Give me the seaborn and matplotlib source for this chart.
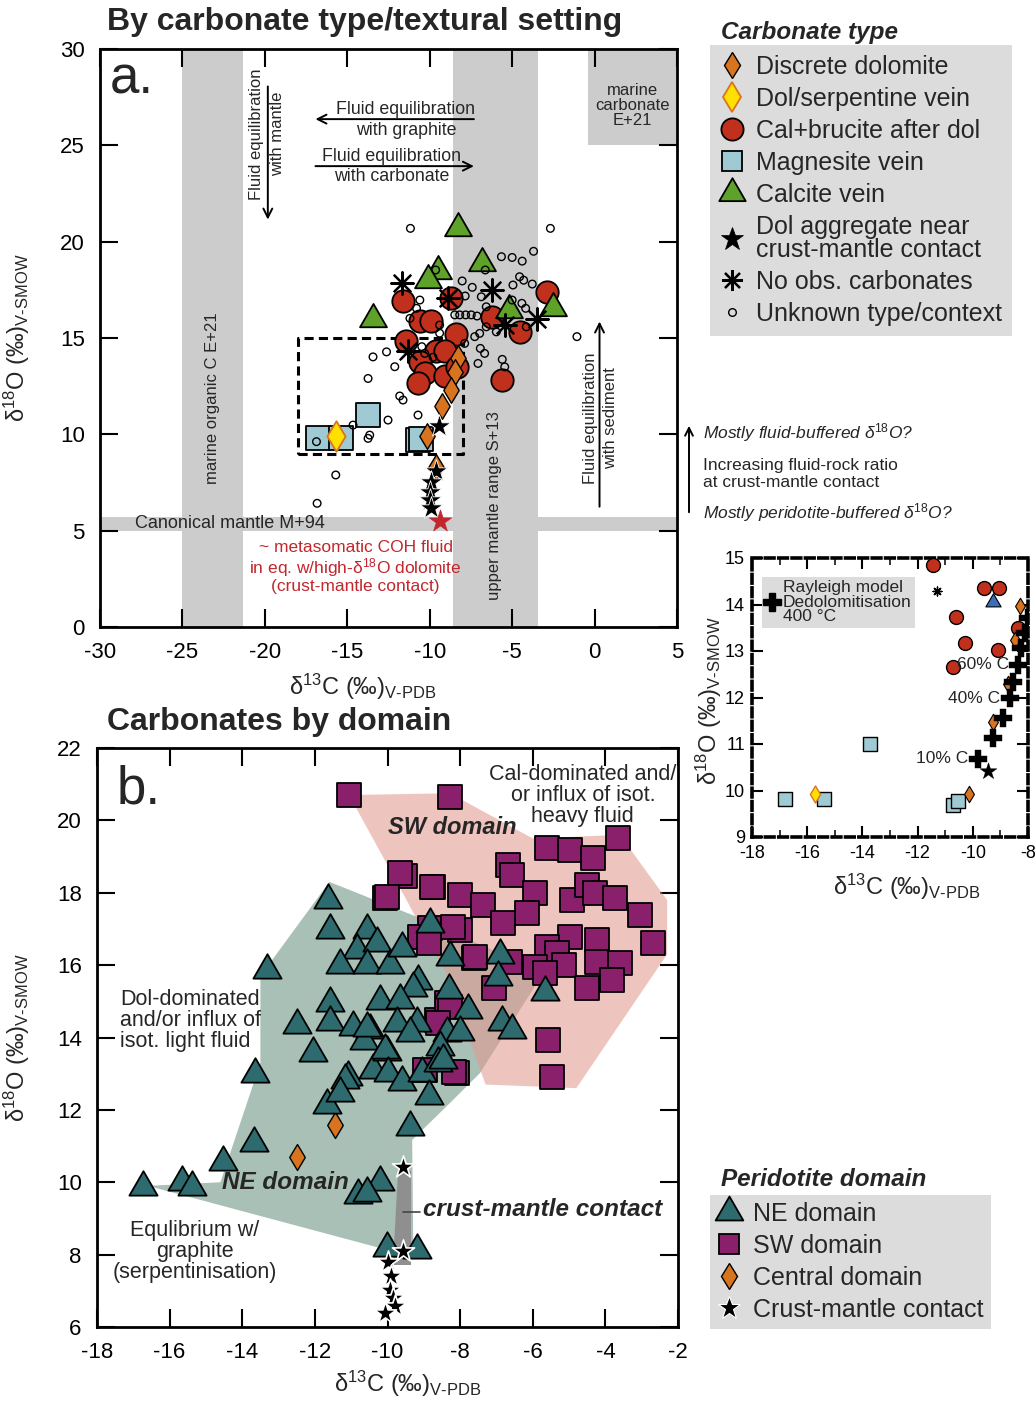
import numpy as np
import matplotlib
matplotlib.use("Agg")
import matplotlib.pyplot as plt
import seaborn as sns
from matplotlib.lines import Line2D
from matplotlib.patches import Polygon, FancyArrowPatch
from matplotlib.path import Path

# ---------------- DATA : panel a (by carbonate type) ----------------
dol_x = [-8.3, -8.48, -8.73, -9.27, -10.15, -9.6]
dol_y = [13.96, 13.24, 12.30, 11.47, 9.93, 8.3]
serp_x = [-15.7]
serp_y = [9.93]
cal_x = [-11.6, -8.7, -10.6, -9.9, -2.9, -6.2, -4.5, -8.4, -5.6,
         -11.45, -9.6, -9.05, -10.6, -10.3, -10.73, -9.09, -8.36]
cal_y = [16.9, 17.1, 15.9, 15.9, 17.4, 16.1, 15.3, 15.2, 12.8,
         14.86, 14.35, 14.35, 13.74, 13.17, 12.66, 13.02, 13.49]
mgs_x = [-16.79, -15.39, -13.72, -10.73, -10.55]
mgs_y = [9.82, 9.82, 11.0, 9.68, 9.78]
calv_x = [-8.3, -6.8, -9.5, -10.1, -13.45, -5.2, -2.55]
calv_y = [20.7, 18.9, 18.5, 18.0, 16.0, 16.45, 16.55]
agg_x = [-9.45, -9.6, -9.9, -10.0, -10.0, -9.9]
agg_y = [10.43, 8.1, 7.5, 7.0, 6.6, 6.2]
noobs_x = [-11.7, -8.9, -6.24, -3.5, -5.45, -11.3]
noobs_y = [17.85, 17.1, 17.5, 16.0, 15.7, 14.3]
unk_x = [-11.17, -2.68, -5.65, -5.0, -4.39, -3.7, -6.63, -9.64, -8.03, -7.42,
         -4.95, -4.55, -4.3, -3.78, -6.87, -5.0, -4.41, -4.18, -7.85, -10.6,
         -10.8, -8.48, -8.18, -7.82, -7.48, -7.13, -6.57, -6.57, -6.97, -7.27,
         -6.93, -6.67, -7.07, -5.6, -5.45, -5.96, -4.14, -7.88, -13.44, -12.62,
         -12.12, -13.74, -11.2, -9.4, -9.4, -1.07, -10.48, -10.3, -9.8, -11.82,
         -11.62, -12.53, -13.74, -13.64, -14.65, -16.87, -10.71, -15.7, -16.83]
unk_y = [20.69, 20.69, 19.22, 19.18, 18.99, 19.5, 18.53, 18.53, 17.96, 17.63,
         17.75, 18.18, 18.0, 17.8, 17.14, 16.97, 16.8, 16.54, 17.18, 16.97,
         16.54, 16.2, 16.2, 16.2, 16.2, 16.14, 16.62, 15.58, 15.24, 15.07,
         14.46, 14.2, 13.68, 13.89, 13.5, 15.32, 15.58, 14.72, 14.02, 14.28,
         13.51, 12.9, 16.02, 15.67, 15.25, 15.07, 14.55, 14.2, 14.0, 11.99,
         11.78, 10.74, 9.79, 9.96, 10.48, 9.62, 11.0, 7.89, 6.42]
coh_x = [-9.4]
coh_y = [5.5]
# reference fields (panel a)
org_c_band = [-25.0, -21.3]
mantle_c_band = [-8.6, -3.45]
marine_carb_box = [-0.4, 5.0, 25.0, 30.0]
canon_mantle_band = [5.0, 5.7]
inset_box = [-18.0, -8.0, 9.0, 15.0]

# ---------------- DATA : inset ----------------
ray_x = [-8.0, -8.12, -8.24, -8.36, -8.55, -8.67, -8.91, -9.27, -9.82]
ray_y = [13.7, 13.38, 13.06, 12.70, 12.34, 11.98, 11.55, 11.12, 10.68]
ray_lab_idx = [3, 5, 8]
ray_lab = ["60% C", "40% C", "10% C"]
blue_tri_x = [-9.27]
blue_tri_y = [14.06]

# ---------------- DATA : panel b (by domain) ----------------
ne_x = [-11.63, -11.58, -10.57, -10.85, -10.3, -11.31, -10.57, -9.93, -13.32, -11.58,
        -10.2, -12.5, -11.58, -10.94, -10.48, -12.04, -10.66, -13.65, -11.08, -10.39,
        -10.02, -9.61, -8.83, -8.28, -9.15, -9.29, -8.32, -9.65, -7.77, -10.57,
        -9.75, -9.19, -9.38, -8.37, -8.0, -10.07, -8.55, -11.17, -9.98, -9.61,
        -9.06, -8.6, -8.87, -11.67, -16.72, -15.67, -15.39, -14.52, -13.69, -11.31,
        -9.38, -10.2, -10.8, -10.57, -10.02, -9.19, -6.9, -6.95, -5.66, -6.85,
        -6.58, -8.47]
ne_y = [17.80, 16.97, 16.97, 16.42, 16.6, 16.0, 16.0, 16.0, 15.87, 14.95,
        15.0, 14.35, 14.44, 14.30, 14.21, 13.57, 13.89, 13.0, 12.92, 13.10,
        13.61, 16.46, 17.15, 16.23, 15.55, 15.36, 15.31, 15.04, 14.76, 14.26,
        14.40, 14.40, 14.12, 14.12, 14.16, 13.66, 13.75, 12.83, 13.01, 12.78,
        13.01, 13.29, 12.37, 12.14, 9.88, 10.02, 9.88, 10.57, 11.08, 12.46,
        11.54, 10.02, 9.65, 9.69, 8.17, 8.13, 16.28, 15.67, 15.27, 14.44,
        14.21, 13.38]
sw_x = [-11.06, -8.28, -5.61, -4.97, -4.33, -3.64, -6.67, -6.58, -8.74, -8.0,
        -7.36, -5.93, -6.16, -6.81, -4.93, -4.51, -4.28, -3.73, -3.04, -2.68,
        -8.0, -8.83, -4.97, -4.24, -5.61, -5.34, -7.63, -6.62, -5.93, -5.15,
        -4.24, -3.59, -5.66, -4.51, -3.82, -7.08, -9.1, -8.64, -10.07, -9.52,
        -8.19, -7.59, -5.57, -5.48, -8.37, -8.09, -9.65, -10.02, -8.78, -8.87,
        -8.28, -8.6, -8.18, -8.96]
sw_y = [20.7, 20.65, 19.23, 19.18, 18.95, 19.5, 18.77, 18.49, 18.17, 17.94,
        17.66, 17.99, 17.43, 17.16, 17.80, 18.22, 17.99, 17.85, 17.39, 16.6,
        16.97, 17.02, 16.79, 16.70, 16.51, 16.33, 16.19, 16.10, 15.96, 16.01,
        16.10, 16.05, 15.78, 15.36, 15.59, 15.36, 16.79, 14.49, 17.86, 18.45,
        17.05, 16.23, 13.93, 12.92, 14.95, 13.01, 18.54, 17.89, 18.17, 16.60,
        14.85, 14.40, 13.06, 13.10]
cen_x = [-11.44, -12.5]
cen_y = [11.59, 10.71]
cmc_x = [-9.56, -9.56, -9.98, -9.9, -9.93, -9.85, -9.79, -10.07]
cmc_y = [10.43, 8.09, 7.81, 7.4, 7.03, 6.8, 6.57, 6.39]
# domain fields (panel b)
ne_field_x = [-16.6, -14.6, -13.5, -13.5, -11.6, -9.18, -5.7, -7.45, -8.28, -9.32, -9.29, -10.01]
ne_field_y = [9.9, 10.0, 13.3, 15.7, 18.3, 17.33, 15.8, 13.02, 12.19, 11.17, 8.13, 8.13]
sw_field_x = [-11.06, -8.28, -6.0, -3.6, -2.3, -2.3, -4.8, -7.3, -8.4, -9.8]
sw_field_y = [20.7, 20.75, 19.5, 19.6, 17.8, 16.3, 12.6, 12.7, 15.8, 18.4]
cmc_field_x = [-9.85, -9.35, -9.35, -9.7]
cmc_field_y = [7.7, 7.7, 10.3, 10.3]

# ---------------- STYLE ----------------
sns.set_theme(style="white")
plt.rcParams["font.family"] = ["Liberation Sans", "DejaVu Sans"]
plt.rcParams["mathtext.fontset"] = "custom"
plt.rcParams["mathtext.rm"] = "Liberation Sans"
plt.rcParams["mathtext.it"] = "Liberation Sans:italic"
plt.rcParams["mathtext.bf"] = "Liberation Sans:bold"
plt.rcParams["axes.unicode_minus"] = False

C_DOL = "#d8741f"
C_YEL = "#ffe000"
C_CAL = "#c0301c"
C_MGS = "#9fcad3"
C_GRN = "#5fa22a"
C_NE = "#2e6b6f"
C_SW = "#8a1f6c"
C_RED = "#c1272d"
C_BAND = "#cccccc"
C_LEG = "#dcdcdc"

TRI = Path([(-1, -0.577), (1, -0.577), (0, 1.155), (-1, -0.577)], closed=True)
AST = (8, 2, 0)

W, H = 1035, 1402
fig = plt.figure(figsize=(W / 100, H / 100), dpi=100)


def fx(px):
    return px / W


def fy(py):
    return 1 - py / H


axa = fig.add_axes([fx(100), fy(627), (677 - 100) / W, (627 - 49) / H])
axb = fig.add_axes([fx(97), fy(1327), (678 - 97) / W, (1327 - 748) / H])
axi = fig.add_axes([fx(752), fy(837), (1028 - 752) / W, (837 - 558) / H])


def sc(ax, x, y, marker, s, fc, ec="black", lw=1.3, z=3):
    sns.scatterplot(x=np.asarray(x, float), y=np.asarray(y, float), ax=ax,
                    marker=marker, s=s, color=fc, edgecolor=ec,
                    linewidth=lw, zorder=z, legend=False)


def style_axes(ax, labsize, length, pad):
    ax.tick_params(direction="in", length=length, width=1.5, labelsize=labsize,
                   top=True, right=True, bottom=True, left=True, colors="black",
                   pad=pad)
    for sp in ax.spines.values():
        sp.set_linewidth(2)
        sp.set_color("black")


YLAB = "δ$^{18}$O (‰)$_{\\text{V-SMOW}}$"
XLAB = "δ$^{13}$C (‰)$_{\\text{V-PDB}}$"

# ================= PANEL A =================
ax = axa
ax.axvspan(*org_c_band, color=C_BAND, lw=0, zorder=0)
ax.axvspan(*mantle_c_band, color=C_BAND, lw=0, zorder=0)
ax.axhspan(*canon_mantle_band, color=C_BAND, lw=0, zorder=0)
ax.fill_between(marine_carb_box[:2], marine_carb_box[2], marine_carb_box[3],
                color=C_BAND, lw=0, zorder=0)
bx = inset_box
ax.plot([bx[0], bx[1], bx[1], bx[0], bx[0]], [bx[2], bx[2], bx[3], bx[3], bx[2]],
        color="black", lw=2.2, ls=(0, (3, 1.7)), zorder=2)

sc(ax, cal_x, cal_y, "o", 260, C_CAL, z=3)
sc(ax, calv_x, calv_y, TRI, 500, C_GRN, z=4)
sc(ax, mgs_x, mgs_y, "s", 280, C_MGS, z=4)
sc(ax, dol_x, dol_y, "d", 170, C_DOL, lw=1.0, z=5)
sc(ax, serp_x, serp_y, "d", 240, C_YEL, ec=C_DOL, lw=1.3, z=5)
sc(ax, agg_x, agg_y, "*", 290, "black", ec="white", lw=0.6, z=6)
sc(ax, coh_x, coh_y, "*", 280, C_RED, ec=C_RED, lw=0.5, z=6)
sc(ax, noobs_x, noobs_y, AST, 260, "black", ec="black", lw=1.6, z=7)
sc(ax, unk_x, unk_y, "o", 30, "none", ec="black", lw=1.0, z=8)

ax.set_xlim(-30, 5)
ax.set_ylim(0, 30)
ax.set_xticks(np.arange(-30, 6, 5))
ax.set_yticks(np.arange(0, 31, 5))
style_axes(ax, 16, 13, 11)
ax.set_xlabel(XLAB, fontsize=17)
ax.set_ylabel(YLAB, fontsize=17)
ax.xaxis.set_label_coords(0.456, -0.078)
ax.yaxis.set_label_coords(-0.118, 0.5)

ax.text(-29.4, 28.4, "a.", fontsize=38, ha="left", va="center")
ax.text(-19.88, 25.6, "Fluid equilibration\nwith mantle", rotation=90, fontsize=12,
        ha="center", va="center", linespacing=1.45)
ax.annotate("", xy=(-19.82, 21.0), xytext=(-19.82, 28.2),
            arrowprops=dict(arrowstyle="->", lw=1.4, color="black", mutation_scale=16))
ax.text(-11.45, 26.3, "Fluid equilibration\nwith graphite", fontsize=12.8,
        ha="center", va="center", linespacing=1.3)
ax.annotate("", xy=(-17.1, 26.36), xytext=(-7.15, 26.36),
            arrowprops=dict(arrowstyle="->", lw=1.4, color="black", mutation_scale=16))
ax.text(-12.3, 23.9, "Fluid equilibration\nwith carbonate", fontsize=12.8,
        ha="center", va="center", linespacing=1.3)
ax.annotate("", xy=(-7.15, 23.92), xytext=(-17.1, 23.92),
            arrowprops=dict(arrowstyle="->", lw=1.4, color="black", mutation_scale=16))
ax.text(-23.15, 11.9, "marine organic C E+21", rotation=90, fontsize=12,
        ha="center", va="center")
ax.text(-6.06, 6.3, "upper mantle range S+13", rotation=90, fontsize=12,
        ha="center", va="center")
ax.text(0.36, 10.85, "Fluid equilibration\nwith sediment", rotation=90, fontsize=12,
        ha="center", va="center", linespacing=1.45)
ax.annotate("", xy=(0.3, 16.0), xytext=(0.3, 6.1),
            arrowprops=dict(arrowstyle="->", lw=1.4, color="black", mutation_scale=16))
ax.text(2.3, 27.09, "marine\ncarbonate\nE+21", fontsize=12, ha="center", va="center",
        linespacing=1.0)
ax.text(-27.9, 5.35, "Canonical mantle M+94", fontsize=13, ha="left", va="center")
ax.text(-14.5, 3.1, "~ metasomatic COH fluid\nin eq. w/high-δ$^{18}$O dolomite\n(crust-mantle contact)",
        fontsize=12.5, color=C_RED, ha="center", va="center", linespacing=1.05)

# legend a
hA = [
    Line2D([], [], ls="none", marker="d", ms=13, mfc=C_DOL, mec="black", mew=1.0),
    Line2D([], [], ls="none", marker="d", ms=15, mfc=C_YEL, mec=C_DOL, mew=1.3),
    Line2D([], [], ls="none", marker="o", ms=16, mfc=C_CAL, mec="black", mew=1.3),
    Line2D([], [], ls="none", marker="s", ms=15, mfc=C_MGS, mec="black", mew=1.3),
    Line2D([], [], ls="none", marker=TRI, ms=22, mfc=C_GRN, mec="black", mew=1.3),
    Line2D([], [], ls="none", marker="*", ms=17, mfc="black", mec="black", mew=0.5),
    Line2D([], [], ls="none", marker=AST, ms=15, mfc="black", mec="black", mew=1.6),
    Line2D([], [], ls="none", marker="o", ms=5.5, mfc="none", mec="black", mew=1.0),
]
lA = ["Discrete dolomite", "Dol/serpentine vein", "Cal+brucite after dol",
      "Magnesite vein", "Calcite vein", "Dol aggregate near\ncrust-mantle contact",
      "No obs. carbonates", "Unknown type/context"]
legA = fig.legend(hA, lA, loc="upper left", bbox_to_anchor=(fx(710), fy(45)),
                  fontsize=18, frameon=True, facecolor=C_LEG, edgecolor="none",
                  framealpha=1, fancybox=False, borderpad=0.4, handlelength=0.95,
                  handletextpad=0.5, labelspacing=0.32, borderaxespad=0)
for t in legA.get_texts():
    t.set_linespacing(0.95)
fig.text(fx(721), fy(32), "Carbonate type", fontsize=17.5, fontweight="bold",
         fontstyle="italic", ha="left", va="center")

# side annotation
fig.text(fx(703), fy(433), "Mostly fluid-buffered δ$^{18}$O?", fontsize=12.5,
         fontstyle="italic", ha="left", va="center")
fig.text(fx(703), fy(474), "Increasing fluid-rock ratio\nat crust-mantle contact",
         fontsize=12.5, ha="left", va="center", linespacing=1.1)
fig.text(fx(703), fy(513), "Mostly peridotite-buffered δ$^{18}$O?", fontsize=12.5,
         fontstyle="italic", ha="left", va="center")
fig.add_artist(FancyArrowPatch(
    (fx(689), fy(515)), (fx(689), fy(423)), transform=fig.transFigure,
    arrowstyle="->", mutation_scale=14, lw=1.4, color="black"))

fig.text(fx(107), fy(22), "By carbonate type/textural setting", fontsize=23,
         fontweight="bold", ha="left", va="center")
fig.text(fx(107), fy(722), "Carbonates by domain", fontsize=23,
         fontweight="bold", ha="left", va="center")

# ================= INSET =================
ax = axi
sc(ax, mgs_x, mgs_y, "s", 95, C_MGS, lw=1.0, z=3)
sc(ax, serp_x, serp_y, "d", 75, C_YEL, ec=C_DOL, lw=1.0, z=4)
sc(ax, cal_x, cal_y, "o", 100, C_CAL, lw=1.0, z=3)
sc(ax, blue_tri_x, blue_tri_y, TRI, 160, "#3a6fb7", lw=0.8, z=4)
sc(ax, dol_x, dol_y, "d", 70, C_DOL, lw=0.8, z=4)
sc(ax, noobs_x, noobs_y, AST, 40, "black", ec="black", lw=1.0, z=4)
sc(ax, ray_x, ray_y, "P", 170, "black", ec="black", lw=0.3, z=5)
sc(ax, agg_x, agg_y, "*", 160, "black", ec="black", lw=0.3, z=5)
for i, lab in zip(ray_lab_idx, ray_lab):
    ax.text(ray_x[i] - 0.33, ray_y[i], lab, fontsize=12.5, ha="right", va="center", zorder=6)
ax.set_xlim(-18, -8)
ax.set_ylim(9, 15)
ax.set_xticks(np.arange(-18, -7, 2))
ax.set_xticks(np.arange(-18, -7, 1), minor=True)
ax.set_yticks(np.arange(9, 16, 1))
style_axes(ax, 13, 8, 5)
ax.tick_params(axis="x", pad=6)
ax.tick_params(which="minor", direction="in", length=5, width=1.3, top=True, bottom=True)
for sp in ax.spines.values():
    sp.set_linestyle((0, (2.4, 1.3)))
    sp.set_linewidth(2.6)
ax.set_xlabel(XLAB, fontsize=17)
ax.set_ylabel(YLAB, fontsize=17)
ax.xaxis.set_label_coords(0.56, -0.125)
ax.yaxis.set_label_coords(-0.1, 0.49)
hR = [Line2D([], [], ls="none", marker="P", ms=12.5, mfc="black", mec="black")]
legR = ax.legend(hR, ["Rayleigh model\nDedolomitisation\n400 °C"], loc="upper left",
                 bbox_to_anchor=(0.036, 0.932), fontsize=12.5, frameon=True,
                 facecolor=C_LEG, edgecolor="none", framealpha=1, fancybox=False,
                 borderpad=0.2, handlelength=0.8, handletextpad=0.2, borderaxespad=0)
for t in legR.get_texts():
    t.set_linespacing(0.95)

# ================= PANEL B =================
ax = axb
ax.add_patch(Polygon(np.column_stack([ne_field_x, ne_field_y]), closed=True,
                     facecolor="#a9c0b6", edgecolor="none", zorder=0))
ax.add_patch(Polygon(np.column_stack([sw_field_x, sw_field_y]), closed=True,
                     facecolor="#e39a91", alpha=0.58, edgecolor="none", zorder=1))
ax.add_patch(Polygon(np.column_stack([cmc_field_x, cmc_field_y]), closed=True,
                     facecolor="#8f8f8f", edgecolor="none", zorder=1))
sc(ax, sw_x, sw_y, "s", 275, C_SW, z=3)
sc(ax, cen_x, cen_y, "d", 175, C_DOL, lw=1.0, z=3)
sc(ax, ne_x, ne_y, TRI, 550, C_NE, z=4)
sc(ax, cmc_x, cmc_y, "*", 280, "black", ec="white", lw=1.2, z=6)
ax.set_xlim(-18, -2)
ax.set_ylim(6, 22)
ax.set_xticks(np.arange(-18, -1, 2))
ax.set_yticks(np.arange(6, 23, 2))
style_axes(ax, 16, 13, 11)
ax.set_xlabel(XLAB, fontsize=17)
ax.set_ylabel(YLAB, fontsize=17)
ax.xaxis.set_label_coords(0.535, -0.072)
ax.yaxis.set_label_coords(-0.112, 0.5)

ax.text(-17.45, 20.84, "b.", fontsize=38, ha="left", va="center")
ax.text(-4.62, 20.70, "Cal-dominated and/\nor influx of isot.\nheavy fluid", fontsize=15.5,
        ha="center", va="center", linespacing=1.0, zorder=7)
ax.text(-9.98, 19.79, "SW domain", fontsize=17, fontweight="bold", fontstyle="italic",
        ha="left", va="center", zorder=7)
ax.text(-17.37, 14.46, "Dol-dominated\nand/or influx of\nisot. light fluid", fontsize=15.5,
        ha="left", va="center", linespacing=1.0, zorder=7)
ax.text(-14.56, 9.98, "NE domain", fontsize=17.5, fontweight="bold", fontstyle="italic",
        ha="left", va="center", zorder=7)
ax.text(-9.02, 9.24, "crust-mantle contact", fontsize=17.5, fontweight="bold",
        fontstyle="italic", ha="left", va="center", zorder=7)
ax.plot([-9.57, -9.1], [9.18, 9.18], color="#444444", lw=1.2, zorder=7)
ax.text(-15.3, 8.08, "Equlibrium w/\ngraphite\n(serpentinisation)", fontsize=15.5,
        ha="center", va="center", linespacing=1.0, zorder=7)

hB = [
    Line2D([], [], ls="none", marker=TRI, ms=23, mfc=C_NE, mec="black", mew=1.3),
    Line2D([], [], ls="none", marker="s", ms=15, mfc=C_SW, mec="black", mew=1.3),
    Line2D([], [], ls="none", marker="d", ms=13, mfc=C_DOL, mec="black", mew=1.0),
    Line2D([], [], ls="none", marker="*", ms=17, mfc="black", mec="white", mew=0.8),
]
lB = ["NE domain", "SW domain", "Central domain", "Crust-mantle contact"]
legB = fig.legend(hB, lB, loc="upper left", bbox_to_anchor=(fx(710), fy(1195)),
                  fontsize=18, frameon=True, facecolor=C_LEG, edgecolor="none",
                  framealpha=1, fancybox=False, borderpad=0.28, handlelength=0.95,
                  handletextpad=0.5, labelspacing=0.32, borderaxespad=0)
fig.text(fx(721), fy(1180), "Peridotite domain", fontsize=17.5, fontweight="bold",
         fontstyle="italic", ha="left", va="center")

fig.savefig("out.png", dpi=100, facecolor="white")
